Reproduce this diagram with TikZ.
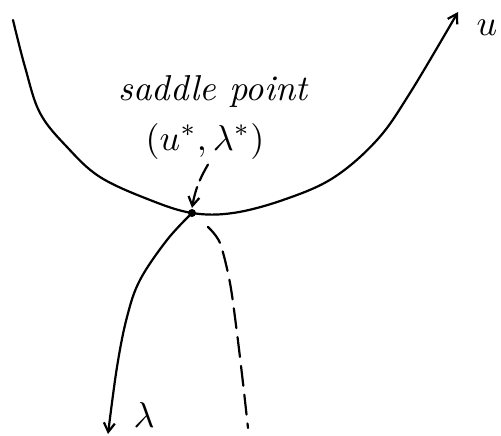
\documentclass[tikz,border=0pt]{standalone}
\usetikzlibrary{positioning, arrows.meta}
\begin{document}
\begin{tikzpicture}[x=1pt, y=-1pt, line width=2.2pt, line cap=round,
    >={Straight Barb[length=9pt, width=11pt]},
    label/.style={scale=3.6, inner sep=1pt}]
            \useasboundingbox (0,0) rectangle (501,436);
            \node[circle, fill, inner sep=0pt, minimum size=8pt] (Saddle) at (192,213) {};
            \node[label, font=\itshape] (Title) at (213,92) {saddle point};
            \node[label] (Point) at (205,141) {$(u^*,\lambda^*)$};
            \node[label] (U) at (487,28) {$u$};
            \node[label] (Lambda) at (144,415) {$\lambda$};
            \coordinate (UEnd) at (458,12);
            \coordinate (LEnd) at (108,434);

            \draw[->] plot[smooth, tension=0.6] coordinates {(13,20) (25,67) (40,113) (67,147) (100,177) (150,200) (Saddle)
                (233,213) (283,200) (333,178) (377,140) (410,93) (UEnd)};
            \draw[->] plot[smooth, tension=0.6] coordinates {(Saddle) (167,240) (140,280) (127,317) (117,367) (LEnd)};
            \draw[dash pattern=on 20pt off 9pt] plot[smooth] coordinates {(208,227) (220,243) (230,283) (237,333) (243,383) (248,428)};
            \draw[->, dash pattern=on 18pt off 7pt] (Point.south) ++(3,-2) to[bend right=10] (Saddle.north);
        \end{tikzpicture}
\end{document}
